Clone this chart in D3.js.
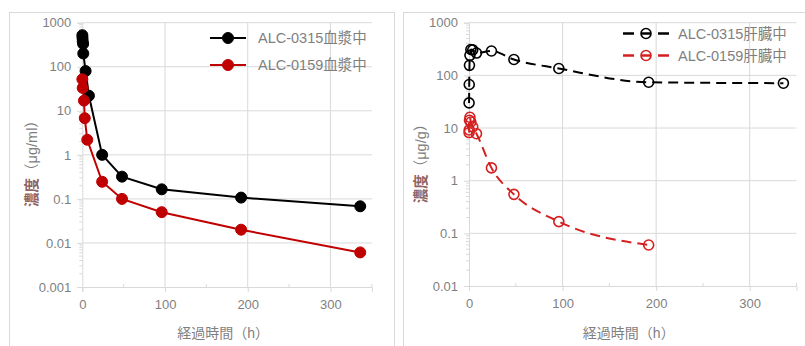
<!DOCTYPE html>
<html>
<head>
<meta charset="utf-8">
<script src="https://cdn.jsdelivr.net/npm/d3@7"></script>
<style>
  body { margin: 0; background: #fff; }
  svg text { font-family: "Liberation Sans", "Noto Sans CJK JP", sans-serif; fill: #7f7f7f; }
</style>
</head>
<body>
<svg id="chart" width="805" height="346"></svg>
<script>
// ---- data ----
// left panel: plasma, µg/ml
const plasma0315Time = [0.08, 0.25, 0.5, 1, 1.2, 4, 8, 24, 48, 96, 192, 336];
const plasma0315Val  = [520, 450, 380, 330, 200, 80, 22, 1.0, 0.32, 0.165, 0.107, 0.068];
const plasma0159Time = [0.08, 0.5, 2, 3, 6, 24, 48, 96, 192, 336];
const plasma0159Val  = [52, 33, 17, 6.8, 2.2, 0.245, 0.1, 0.05, 0.02, 0.0061];
// right panel: liver, µg/g
const liver0315Time = [0.08, 0.25, 0.5, 1, 2, 4, 8, 24, 48, 96, 192, 336];
const liver0315Val  = [30, 67, 155, 240, 310, 305, 265, 290, 200, 135, 74, 71];
const liver0159Time = [0.08, 0.25, 0.5, 1, 2, 4, 8, 24, 48, 96, 192];
const liver0159Val  = [8.2, 9.2, 14, 16, 13, 10.5, 7.8, 1.75, 0.55, 0.167, 0.06];

const xTicks = [0, 100, 200, 300];
const xMinor = [50, 150, 250, 350];
const leftYTicks = [0.001, 0.01, 0.1, 1, 10, 100, 1000];
const rightYTicks = [0.01, 0.1, 1, 10, 100, 1000];
const leftYLabels = ["0.001", "0.01", "0.1", "1", "10", "100", "1000"];
const rightYLabels = ["0.01", "0.1", "1", "10", "100", "1000"];
const xTitle = "経過時間（h）";

const gridColor = "#d9d9d9";
const black = "#000000", red = "#c00000";

const svg = d3.select("#chart");

// panel frames
svg.append("rect").attr("x", 9.5).attr("y", 12.5).attr("width", 385).attr("height", 345)
  .attr("fill", "none").attr("stroke", gridColor);
svg.append("rect").attr("x", 403.5).attr("y", 12.5).attr("width", 410).attr("height", 345)
  .attr("fill", "none").attr("stroke", gridColor);

function drawPanel(opt) {
  const x = d3.scaleLinear().domain([0, 350]).range(opt.xRange);
  const y = d3.scaleLog().domain(opt.yDomain).range(opt.yRange);
  const g = svg.append("g");

  // horizontal gridlines
  g.selectAll(".hg").data(opt.yTicks.slice(1)).join("line")
    .attr("x1", x(0)).attr("x2", x(350))
    .attr("y1", d => y(d)).attr("y2", d => y(d))
    .attr("stroke", gridColor).attr("stroke-width", 1);
  // vertical gridlines
  g.selectAll(".vg").data(xTicks.slice(1)).join("line")
    .attr("x1", d => x(d)).attr("x2", d => x(d))
    .attr("y1", y(opt.yDomain[0])).attr("y2", y(opt.yDomain[1]))
    .attr("stroke", gridColor).attr("stroke-width", 1);

  // y axis
  const yAxis = d3.axisLeft(y).tickValues(opt.yTicks).tickSize(5)
    .tickFormat((d, i) => opt.yLabels[i]).tickPadding(6);
  const ya = g.append("g").attr("transform", `translate(${x(0)},0)`).call(yAxis);
  ya.select(".domain").attr("stroke", gridColor);
  ya.selectAll(".tick line").attr("stroke", gridColor);
  ya.selectAll("text").attr("font-size", 13).attr("fill", "#7f7f7f");
  // log minor ticks
  const minors = [];
  for (let k = 0; k < opt.yTicks.length - 1; k++)
    for (let m = 2; m < 10; m++) minors.push(opt.yTicks[k] * m);
  g.selectAll(".ym").data(minors).join("line")
    .attr("x1", x(0) - 3).attr("x2", x(0))
    .attr("y1", d => y(d)).attr("y2", d => y(d))
    .attr("stroke", gridColor);

  // x axis
  const xAxis = d3.axisBottom(x).tickValues(xTicks).tickSize(5).tickPadding(8);
  const xa = g.append("g").attr("transform", `translate(0,${y(opt.yDomain[0])})`).call(xAxis);
  xa.select(".domain").attr("stroke", gridColor);
  xa.selectAll(".tick line").attr("stroke", gridColor);
  xa.selectAll("text").attr("font-size", 13).attr("fill", "#7f7f7f");
  g.selectAll(".xm").data(xMinor).join("line")
    .attr("x1", d => x(d)).attr("x2", d => x(d))
    .attr("y1", y(opt.yDomain[0]) - 3).attr("y2", y(opt.yDomain[0]))
    .attr("stroke", gridColor);

  // axis titles
  g.append("text").attr("x", (opt.xRange[0] + opt.xRange[1]) / 2 - 4).attr("y", 338)
    .attr("text-anchor", "middle").attr("font-size", 14).text(xTitle);
  const yt = g.append("text")
    .attr("transform", `translate(${opt.yTitleX},${160}) rotate(-90)`)
    .attr("text-anchor", "middle").attr("font-size", 14.5);
  yt.append("tspan").style("fill", "#8f6464").attr("font-weight", "bold").text("濃度");
  yt.append("tspan").text(opt.unit);

  // series
  opt.series.forEach(s => {
    const pts = s.t.map((t, i) => [x(t), y(s.v[i])]);
    g.append("path").attr("d", d3.line().curve(s.curve)(pts))
      .attr("fill", "none").attr("stroke", s.color).attr("stroke-width", 2)
      .attr("stroke-dasharray", s.dash);
    g.selectAll(null).data(pts).join("circle")
      .attr("cx", d => d[0]).attr("cy", d => d[1]).attr("r", s.r)
      .attr("fill", s.open ? "none" : s.color)
      .attr("stroke", s.color).attr("stroke-width", s.open ? 1.6 : 1);
  });

  // legend
  opt.series.forEach((s, i) => {
    const ly = opt.legend.y[i];
    const lx0 = opt.legend.x0, lx1 = opt.legend.x1, mx = (lx0 + lx1) / 2;
    if (s.open) {
      [[lx0, lx0 + 11], [mx - 5, mx + 5], [lx1 - 11, lx1]].forEach(seg =>
        g.append("line").attr("x1", seg[0]).attr("x2", seg[1]).attr("y1", ly).attr("y2", ly)
          .attr("stroke", s.color).attr("stroke-width", 2.5));
    } else {
      g.append("line").attr("x1", lx0).attr("x2", lx1).attr("y1", ly).attr("y2", ly)
        .attr("stroke", s.color).attr("stroke-width", 2);
    }
    g.append("circle").attr("cx", mx).attr("cy", ly).attr("r", s.r)
      .attr("fill", s.open ? "none" : s.color).attr("stroke", s.color)
      .attr("stroke-width", s.open ? 1.6 : 1);
    g.append("text").attr("x", opt.legend.tx).attr("y", ly).attr("dy", "0.36em")
      .attr("font-size", 14.5).text(s.name);
  });
}

drawPanel({
  xRange: [82.3, 371.8], yDomain: [0.001, 1000], yRange: [287, 22.7],
  yTicks: leftYTicks, yLabels: leftYLabels, yTitleX: 37, unit: "（μg/ml）",
  legend: { x0: 210, x1: 246, tx: 258, y: [38, 65] },
  series: [
    { name: "ALC-0315血漿中", t: plasma0315Time, v: plasma0315Val, color: black, r: 5.5, open: false, dash: null, curve: d3.curveLinear },
    { name: "ALC-0159血漿中", t: plasma0159Time, v: plasma0159Val, color: red, r: 5.5, open: false, dash: null, curve: d3.curveLinear }
  ]
});

drawPanel({
  xRange: [469, 796.5], yDomain: [0.01, 1000], yRange: [286, 22.7],
  yTicks: rightYTicks, yLabels: rightYLabels, yTitleX: 426, unit: "（μg/g）",
  legend: { x0: 623, x1: 669, tx: 678, y: [33.5, 55.5] },
  series: [
    { name: "ALC-0315肝臓中", t: liver0315Time, v: liver0315Val, color: black, r: 5, open: true, dash: "10,6", curve: d3.curveMonotoneX },
    { name: "ALC-0159肝臓中", t: liver0159Time, v: liver0159Val, color: "#d42020", r: 5, open: true, dash: "10,6", curve: d3.curveMonotoneX }
  ]
});
</script>
</body>
</html>
